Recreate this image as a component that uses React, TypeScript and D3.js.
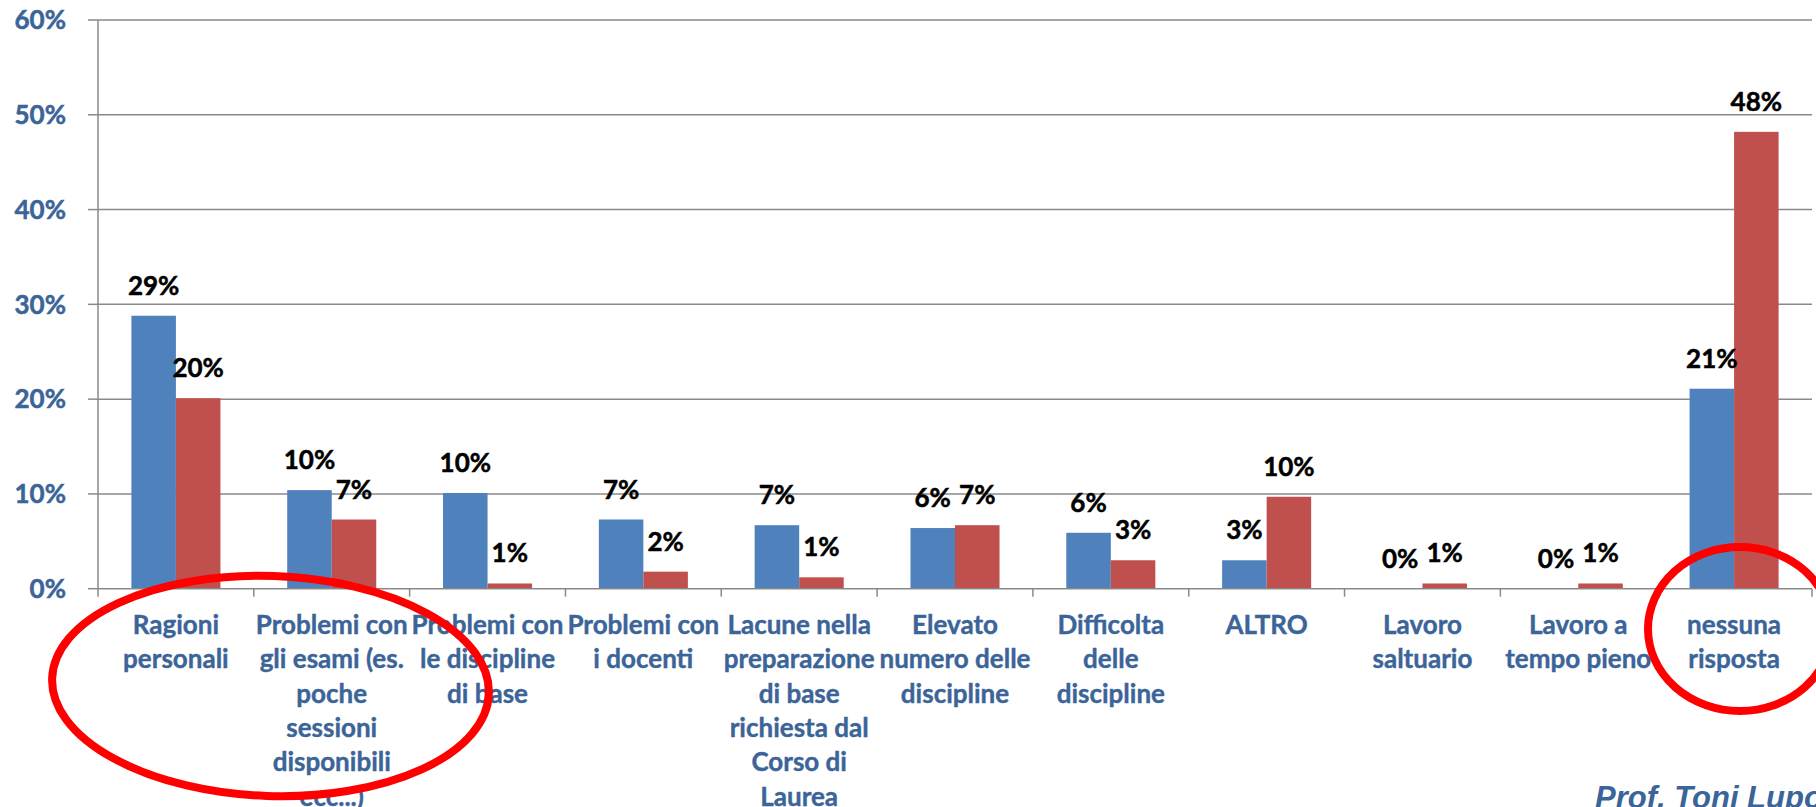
import React, { useEffect } from "react";
import * as d3 from "d3";

const categories = [
  "Ragioni\npersonali",
  "Problemi con\ngli esami (es.\npoche\nsessioni\ndisponibili\necc...)",
  "Problemi con\nle discipline\ndi base",
  "Problemi con\ni docenti",
  "Lacune nella\npreparazione\ndi base\nrichiesta dal\nCorso di\nLaurea",
  "Elevato\nnumero delle\ndiscipline",
  "Difficolta\ndelle\ndiscipline",
  "ALTRO",
  "Lavoro\nsaltuario",
  "Lavoro a\ntempo pieno",
  "nessuna\nrisposta",
];
const seriesBlue = [28.8, 10.4, 10.1, 7.3, 6.7, 6.4, 5.9, 3.0, 0, 0, 21.1];
const seriesRed = [20.1, 7.3, 0.55, 1.8, 1.2, 6.7, 3.0, 9.7, 0.55, 0.55, 48.2];
const yTicks = [0, 10, 20, 30, 40, 50, 60];
const seriesKeys = ["blue", "red"];

const W = 1816;
const H = 807;
const LEFT = 98;
const RIGHT = 1812;
const TOP = 20;
const BOTTOM = 588.7;

const BLUE = "#4F81BD";
const RED = "#C0504D";
const TEXT_BLUE = "#3B6498";
const GRID = "#8A8A8A";
const FONT = "Lato, 'Open Sans', sans-serif";

export default function App() {
  useEffect(() => {
    document.body.style.margin = "0";
    document.body.style.overflow = "hidden";
  }, []);

  const x = d3.scaleBand<string>().domain(categories).range([LEFT, RIGHT]).paddingInner(0).paddingOuter(0);
  const inner = d3
    .scaleBand<string>()
    .domain(seriesKeys)
    .range([0, x.bandwidth()])
    .paddingInner(0)
    .paddingOuter(0.75);
  const y = d3.scaleLinear().domain([0, 60]).range([BOTTOM, TOP]);

  const seriesData = [
    { key: "blue", values: seriesBlue, color: BLUE },
    { key: "red", values: seriesRed, color: RED },
  ];

  const boundaries = categories.map((c) => x(c) as number).concat([RIGHT]);

  return (
    <svg
      width={W}
      height={H}
      style={{ position: "absolute", left: 0, top: 0, display: "block", background: "#fff" }}
    >
      <rect x={0} y={0} width={W} height={H} fill="#fff" />
      {/* gridlines */}
      {yTicks.map((t) => (
        <g key={"g" + t}>
          {t > 0 && <line x1={LEFT} x2={RIGHT} y1={y(t)} y2={y(t)} stroke={GRID} strokeWidth={1.5} />}
          <line x1={LEFT - 10} x2={LEFT} y1={y(t)} y2={y(t)} stroke={GRID} strokeWidth={1.5} />
          <text
            x={66}
            y={y(t) + 9.3}
            textAnchor="end"
            fontFamily={FONT}
            fontWeight={700}
            fontSize={26}
            fill={TEXT_BLUE}
            stroke={TEXT_BLUE}
            strokeWidth={0.5}
          >
            {t + "%"}
          </text>
        </g>
      ))}
      {/* bars */}
      {seriesData.map((s) =>
        categories.map((c, i) => (
          <rect
            key={s.key + i}
            x={(x(c) as number) + (inner(s.key) as number)}
            y={y(s.values[i])}
            width={inner.bandwidth()}
            height={BOTTOM - y(s.values[i])}
            fill={s.color}
          />
        ))
      )}
      {/* axes */}
      <line x1={LEFT} x2={LEFT} y1={TOP} y2={BOTTOM} stroke={GRID} strokeWidth={1.5} />
      <line x1={LEFT} x2={RIGHT} y1={BOTTOM} y2={BOTTOM} stroke={GRID} strokeWidth={1.5} />
      {boundaries.map((b, i) => (
        <line key={"t" + i} x1={b} x2={b} y1={BOTTOM} y2={BOTTOM + 8} stroke={GRID} strokeWidth={1.5} />
      ))}
      {/* data labels */}
      {seriesData.map((s) =>
        categories.map((c, i) => (
          <text
            key={"l" + s.key + i}
            x={(x(c) as number) + (inner(s.key) as number) + inner.bandwidth() / 2}
            y={y(s.values[i]) - 21}
            textAnchor="middle"
            fontFamily={FONT}
            fontWeight={700}
            fontSize={26}
            fill="#000"
            stroke="#000"
            strokeWidth={0.5}
          >
            {Math.round(s.values[i]) + "%"}
          </text>
        ))
      )}
      {/* category labels */}
      {categories.map((c) => (
        <text
          key={"c" + c}
          x={(x(c) as number) + x.bandwidth() / 2}
          y={634}
          textAnchor="middle"
          fontFamily={FONT}
          fontWeight={700}
          fontSize={26}
          fill={TEXT_BLUE}
          stroke={TEXT_BLUE}
          strokeWidth={0.4}
        >
          {c.split("\n").map((line, j) => (
            <tspan key={j} x={(x(c) as number) + x.bandwidth() / 2} dy={j === 0 ? 0 : 34.3}>
              {line}
            </tspan>
          ))}
        </text>
      ))}
      {/* annotations */}
      <ellipse
        cx={270.5}
        cy={686}
        rx={218.5}
        ry={110}
        fill="none"
        stroke="#FF0000"
        strokeWidth={8}
        transform="rotate(2 270.5 686)"
      />
      <ellipse cx={1740} cy={629} rx={92} ry={82} fill="none" stroke="#FF0000" strokeWidth={8} />
      <text
        x={1595}
        y={808}
        fontFamily="'Liberation Sans', Arial, sans-serif"
        fontWeight={700}
        fontStyle="italic"
        fontSize={31}
        fill={TEXT_BLUE}
      >
        Prof. Toni Lupo
      </text>
    </svg>
  );
}
